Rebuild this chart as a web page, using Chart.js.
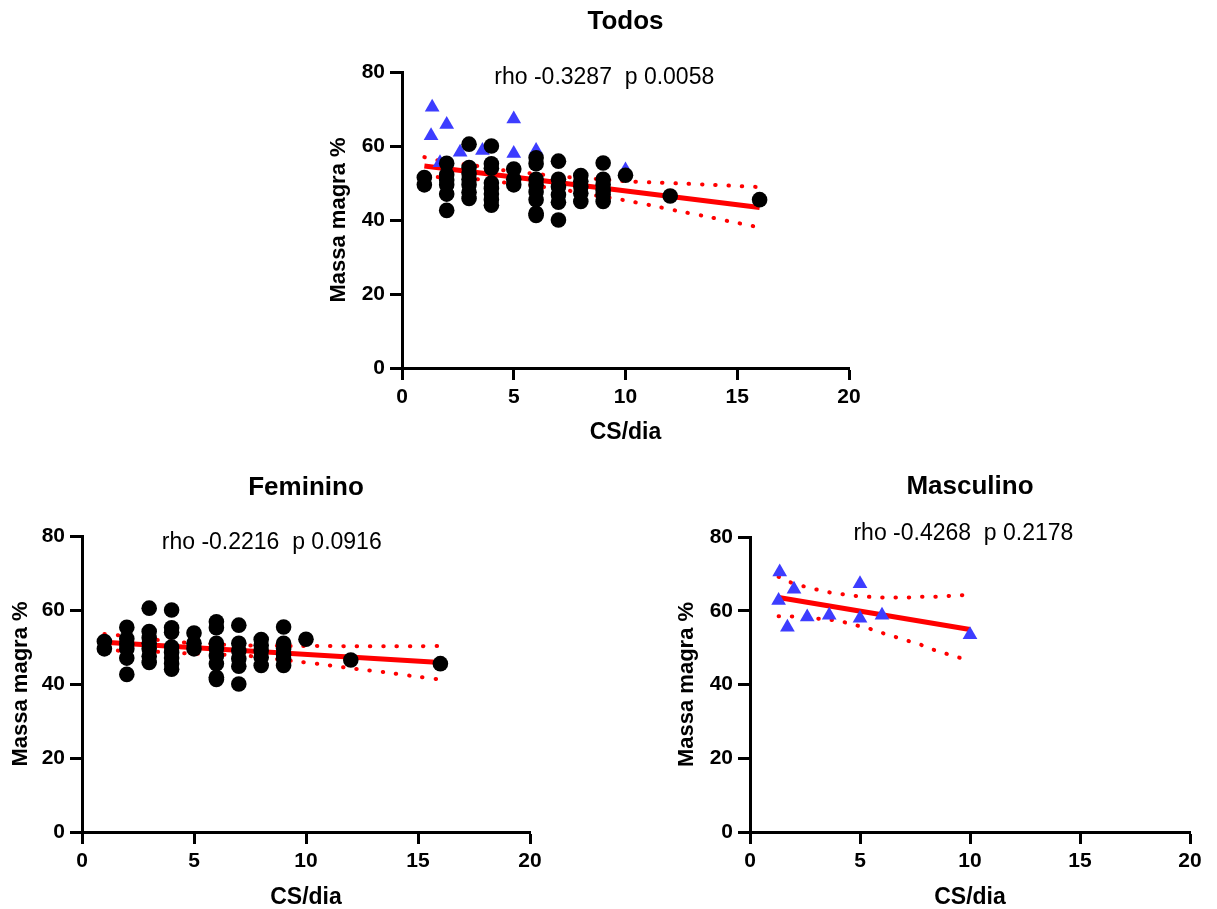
<!DOCTYPE html>
<html>
<head>
<meta charset="utf-8">
<title>Massa magra x CS/dia</title>
<script src="https://cdn.jsdelivr.net/npm/chart.js@4.4.1/dist/chart.umd.min.js"></script>
<style>
    html, body { margin: 0; padding: 0; background: #fff; overflow: hidden; width: 1217px; height: 909px; }
    canvas { position: absolute; }
</style>
</head>
<body>
<canvas id="graficoTodos" width="545" height="450" style="left:322px;top:0px"></canvas>
<canvas id="graficoFeminino" width="546" height="455" style="left:4px;top:460px"></canvas>
<canvas id="graficoMasculino" width="545" height="455" style="left:670px;top:460px"></canvas>
<script>
// valori
const femCS = [1, 1,
    2, 2, 2, 2, 2, 2,
    3, 3, 3, 3, 3, 3, 3,
    4, 4, 4, 4, 4, 4, 4, 4,
    5, 5, 5,
    6, 6, 6, 6, 6, 6, 6, 6,
    7, 7, 7, 7, 7, 7,
    8, 8, 8, 8, 8,
    9, 9, 9, 9, 9, 9,
    10, 12, 16];
const femMassa = [51.5, 49.5,
    55.3, 52.2, 50.8, 49.5, 47, 42.6,
    60.5, 54.2, 52.5, 51, 49.5, 47.5, 45.8,
    60, 55.2, 54, 50, 48.5, 47, 45.5, 44,
    53.8, 51, 49.5,
    56.8, 55.2, 51, 49.5, 47.6, 45.5, 41.8, 41.2,
    55.9, 51, 49, 46.8, 44.8, 40,
    52, 50.5, 49, 47.2, 45,
    55.4, 51, 49.5, 48, 46.8, 45,
    52.1, 46.5, 45.5];

const mascCS = [1.35, 1.3, 1.7, 2, 2.6, 3.6, 5, 5, 6, 10];
const mascMassa = [70.5, 62.8, 55.5, 65.8, 58.3, 58.8, 67.3, 58, 58.8, 53.5];

// rette di regressione e bande di confidenza (linee puntinate)
const todosRetta = [[1, 54.6], [16, 43.4]];
const todosBandaX = [1, 2, 3.4, 4.6, 6.4, 7.6, 8.7, 9.9, 11.1, 12.3, 13.5, 14.6, 16];
const todosSup = [57.0, 55.6, 54.6, 53.4, 52.2, 51.5, 51.1, 50.5, 50.2, 49.9, 49.6, 49.3, 48.9];
const todosInf = [51.7, 51.5, 51.0, 50.1, 48.9, 47.8, 46.6, 45.4, 44.0, 42.5, 41.1, 39.7, 38.0];

const femRetta = [[1, 51.3], [16, 45.8]];
const femBandaX = [1, 1.7, 3.4, 4.6, 6.4, 7.6, 9.4, 10.6, 12.3, 13.5, 14.7, 16];
const femSup = [53.5, 53.1, 51.9, 51.2, 50.6, 50.4, 50.3, 50.3, 50.2, 50.2, 50.2, 50.3];
const femInf = [49.2, 49.0, 48.7, 48.3, 47.9, 47.5, 46.2, 45.4, 44.0, 43.2, 42.2, 41.2];

const mascRetta = [[1.3, 63.6], [10, 54.9]];
const mascBandaX = [1.3, 1.8, 2.4, 3.0, 3.6, 4.2, 4.8, 5.4, 6.0, 6.6, 7.2, 7.8, 8.4, 9.0, 9.6, 10];
const mascSup = [69.2, 67.8, 66.7, 65.8, 65.0, 64.5, 64.0, 63.8, 63.6, 63.6, 63.6, 63.8, 63.8, 64.0, 64.2, 64.3];
const mascInf = [58.5, 58.5, 58.2, 57.9, 57.6, 57.0, 56.1, 55.2, 54.0, 52.9, 51.8, 50.7, 49.3, 48.2, 47.1, 45.7];

const xTicks = [0, 5, 10, 15, 20];
const yTicks = [0, 20, 40, 60, 80];

Chart.defaults.font.family = '"Liberation Sans", Arial, sans-serif';
Chart.defaults.color = '#000';

const FONT = '"Liberation Sans", Arial, sans-serif';

// testo rho / p dentro l'area del grafico
const notaPlugin = {
    id: 'nota',
    afterDatasetsDraw(chart, args, opts) {
        const ctx = chart.ctx;
        ctx.save();
        ctx.font = '23px ' + FONT;
        ctx.fillStyle = '#000';
        ctx.textAlign = 'center';
        ctx.textBaseline = 'middle';
        ctx.fillText(opts.testo, chart.scales.x.getPixelForValue(opts.x), chart.scales.y.getPixelForValue(opts.y));
        ctx.restore();
    }
};

function punti(xs, ys) {
    return xs.map((v, i) => ({ x: v, y: ys[i] }));
}

function scala(titolo, valori, dimensione, fontTitolo) {
    return {
        type: 'linear',
        min: valori[0],
        max: valori[valori.length - 1],
        border: { display: true, color: '#000', width: 3 },
        grid: { display: true, drawOnChartArea: false, drawTicks: true, tickLength: 12, tickWidth: 3, tickColor: '#000' },
        afterBuildTicks: function (s) {
            s.ticks = valori.map(v => ({ value: v }));
        },
        ticks: { color: '#000', font: { size: 21, weight: 'bold' }, padding: 5 },
        title: { display: true, text: titolo, color: '#000', font: { size: fontTitolo, weight: 'bold' }, padding: { top: 4, bottom: 4 } },
        afterFit: dimensione
    };
}

function grafico(id, g) {
    const datasets = [];
    if (g.fem) {
        datasets.push({
            label: 'Feminino',
            data: g.fem,
            pointStyle: 'circle',
            pointRadius: 7.8,
            backgroundColor: '#000',
            borderColor: '#000',
            borderWidth: 0,
            order: 0
        });
    }
    if (g.masc) {
        datasets.push({
            label: 'Masculino',
            data: g.masc,
            pointStyle: 'triangle',
            pointRadius: 8.5,
            backgroundColor: '#3d3dff',
            borderColor: '#3d3dff',
            borderWidth: 0,
            order: 1
        });
    }
    datasets.push({
        label: 'Regressione',
        data: g.retta.map(p => ({ x: p[0], y: p[1] })),
        showLine: true,
        pointRadius: 0,
        borderColor: '#ff0000',
        borderWidth: 5,
        order: 2
    });
    [g.sup, g.inf].forEach(banda => {
        datasets.push({
            label: 'IC 95%',
            data: punti(g.bandaX, banda),
            showLine: true,
            pointRadius: 0,
            borderColor: '#ff0000',
            borderWidth: 4,
            borderDash: [0.5, 12.8],
            borderCapStyle: 'round',
            tension: 0.3,
            order: 3
        });
    });

    new Chart(document.getElementById(id), {
        type: 'scatter',
        data: { datasets: datasets },
        plugins: [notaPlugin],
        options: {
            responsive: false,
            animation: false,
            layout: { padding: { left: 0, right: g.destra, top: 0, bottom: 0 } },
            plugins: {
                legend: { display: false },
                tooltip: { enabled: false },
                title: {
                    display: true,
                    text: g.titolo,
                    fullSize: false,
                    color: '#000',
                    font: { size: 26, weight: 'bold' },
                    padding: { top: g.titoloSopra, bottom: g.titoloSotto }
                },
                nota: { testo: g.nota, x: g.notaX, y: g.notaY }
            },
            scales: {
                x: scala('CS/dia', xTicks, s => { s.height = g.altezzaX; }, 23),
                y: scala('Massa magra %', yTicks, s => { s.width = g.larghezzaY; }, 22)
            }
        }
    });
}

grafico('graficoTodos', {
    titolo: 'Todos',
    nota: 'rho -0.3287  p 0.0058', notaX: 9.05, notaY: 78.4,
    fem: punti(femCS, femMassa),
    masc: punti(mascCS, mascMassa),
    retta: todosRetta, bandaX: todosBandaX, sup: todosSup, inf: todosInf,
    destra: 18, titoloSopra: 6, titoloSotto: 34.8, altezzaX: 82, larghezzaY: 80
});

grafico('graficoFeminino', {
    titolo: 'Feminino',
    nota: 'rho -0.2216  p 0.0916', notaX: 8.47, notaY: 78.1,
    fem: punti(femCS, femMassa),
    retta: femRetta, bandaX: femBandaX, sup: femSup, inf: femInf,
    destra: 20, titoloSopra: 12.4, titoloSotto: 32.4, altezzaX: 83, larghezzaY: 78
});

grafico('graficoMasculino', {
    titolo: 'Masculino',
    nota: 'rho -0.4268  p 0.2178', notaX: 9.7, notaY: 80.8,
    masc: punti(mascCS, mascMassa),
    retta: mascRetta, bandaX: mascBandaX, sup: mascSup, inf: mascInf,
    destra: 25, titoloSopra: 11.4, titoloSotto: 34.4, altezzaX: 83, larghezzaY: 80
});
</script>
</body>
</html>
